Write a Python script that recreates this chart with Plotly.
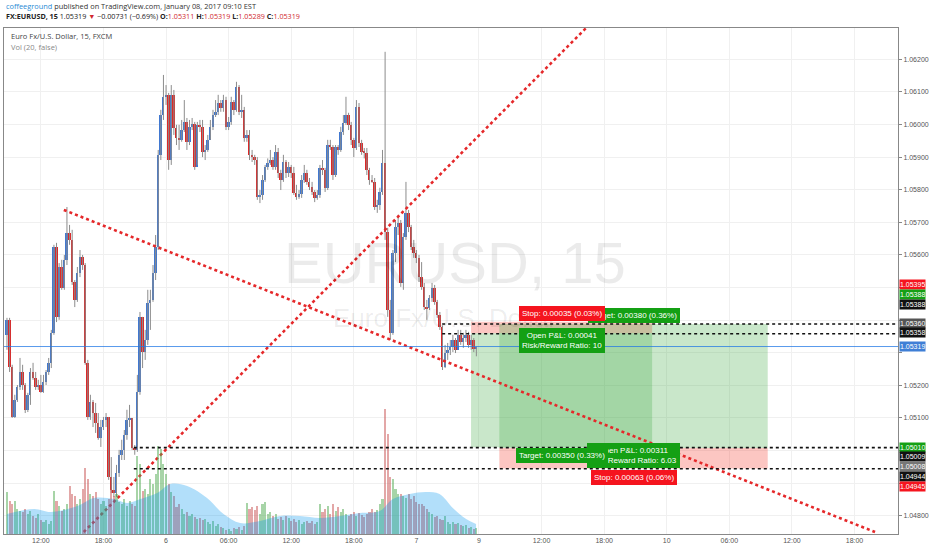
# EURUSD 15m chart (TradingView snapshot) rebuilt with plotly
import plotly.graph_objects as go

# --- bar data (15 minute bars, time in hours on a compressed session scale) ---
first_hour = 8.75
bar_step = 0.25
first_open = 1.05355

closes = [
    1.05401, 1.05256, 1.05103, 1.05155, 1.05195, 1.05241, 1.05201, 1.05125, 1.05171, 1.05241,
    1.05223, 1.05195, 1.05201, 1.05180, 1.05210, 1.05241, 1.05269, 1.05361, 1.05624, 1.05410,
    1.05563, 1.05499, 1.05585, 1.05667, 1.05646, 1.05517, 1.05462, 1.05545, 1.05594, 1.05569,
    1.05269, 1.05103, 1.05149, 1.05115, 1.05085, 1.05039, 1.05072, 1.05094, 1.05103, 1.04919,
    1.04879, 1.04870, 1.04931, 1.04987, 1.05002, 1.05048, 1.05094, 1.05100, 1.05008, 1.05002,
    1.05180, 1.05410, 1.05302, 1.05339, 1.05453, 1.05462, 1.05545, 1.05624, 1.05907, 1.06029,
    1.06085, 1.06091, 1.05891, 1.06091, 1.05989, 1.05959, 1.05953, 1.05983, 1.06008, 1.05947,
    1.05993, 1.06002, 1.05870, 1.05999, 1.05993, 1.05916, 1.05922, 1.05953, 1.05993, 1.06029,
    1.06039, 1.06066, 1.06051, 1.06075, 1.05993, 1.06008, 1.06069, 1.06045, 1.06115, 1.06039,
    1.06045, 1.05959, 1.05968, 1.05907, 1.05900, 1.05891, 1.05778, 1.05784, 1.05830, 1.05870,
    1.05882, 1.05891, 1.05870, 1.05916, 1.05851, 1.05830, 1.05885, 1.05851, 1.05870, 1.05851,
    1.05790, 1.05778, 1.05787, 1.05830, 1.05851, 1.05824, 1.05809, 1.05793, 1.05775, 1.05784,
    1.05867, 1.05861, 1.05806, 1.05937, 1.05931, 1.05845, 1.05931, 1.05922, 1.05977, 1.06005,
    1.06029, 1.05999, 1.05953, 1.05928, 1.06054, 1.05943, 1.05916, 1.05913, 1.05861, 1.05830,
    1.05824, 1.05747, 1.05753, 1.05793, 1.05882, 1.05670, 1.05431, 1.05361, 1.05606, 1.05686,
    1.05698, 1.05514, 1.05655, 1.05729, 1.05686, 1.05624, 1.05606, 1.05591, 1.05532, 1.05502,
    1.05440, 1.05437, 1.05468, 1.05499, 1.05456, 1.05416, 1.05379, 1.05256, 1.05299, 1.05309,
    1.05318, 1.05339, 1.05309, 1.05355, 1.05333, 1.05345, 1.05355, 1.05324, 1.05339, 1.05311,
    1.05319,
]

highs = [
    1.05407, 1.05407, 1.05263, 1.05171, 1.05201, 1.05284, 1.05263, 1.05207, 1.05177, 1.05253,
    1.05269, 1.05241, 1.05217, 1.05232, 1.05232, 1.05247, 1.05284, 1.05370, 1.05631, 1.05637,
    1.05575, 1.05585, 1.05600, 1.05747, 1.05692, 1.05677, 1.05523, 1.05563, 1.05615, 1.05600,
    1.05575, 1.05278, 1.05171, 1.05155, 1.05146, 1.05115, 1.05094, 1.05103, 1.05115, 1.05103,
    1.04980, 1.04919, 1.04956, 1.05002, 1.05033, 1.05063, 1.05125, 1.05140, 1.05100, 1.05017,
    1.05232, 1.05425, 1.05410, 1.05370, 1.05493, 1.05493, 1.05569, 1.05661, 1.05922, 1.06045,
    1.06152, 1.06121, 1.06097, 1.06121, 1.06106, 1.05999, 1.05999, 1.06014, 1.06075, 1.06020,
    1.06014, 1.06020, 1.06008, 1.06008, 1.06014, 1.06014, 1.05937, 1.05968, 1.06014, 1.06045,
    1.06075, 1.06091, 1.06075, 1.06091, 1.06085, 1.06023, 1.06085, 1.06075, 1.06131, 1.06121,
    1.06091, 1.06054, 1.05983, 1.05983, 1.05922, 1.05907, 1.05900, 1.05799, 1.05845, 1.05876,
    1.05896, 1.05922, 1.05900, 1.05937, 1.05928, 1.05861, 1.05907, 1.05891, 1.05885, 1.05876,
    1.05870, 1.05815, 1.05799, 1.05845, 1.05876, 1.05861, 1.05836, 1.05824, 1.05799, 1.05799,
    1.05876, 1.05891, 1.05867, 1.05953, 1.05953, 1.05937, 1.05937, 1.05937, 1.05993, 1.06029,
    1.06085, 1.06036, 1.06008, 1.05959, 1.06075, 1.06066, 1.05953, 1.05928, 1.05928, 1.05867,
    1.05845, 1.05836, 1.05769, 1.05806, 1.05922, 1.06223, 1.05683, 1.05462, 1.05615, 1.05707,
    1.05723, 1.05707, 1.05667, 1.05824, 1.05738, 1.05692, 1.05646, 1.05615, 1.05600, 1.05578,
    1.05514, 1.05462, 1.05477, 1.05514, 1.05508, 1.05462, 1.05425, 1.05384, 1.05324, 1.05330,
    1.05339, 1.05355, 1.05345, 1.05370, 1.05370, 1.05361, 1.05370, 1.05364, 1.05355, 1.05345,
    1.05319,
]

lows = [
    1.05309, 1.05241, 1.05100, 1.05100, 1.05149, 1.05186, 1.05186, 1.05115, 1.05118, 1.05140,
    1.05217, 1.05186, 1.05186, 1.05177, 1.05177, 1.05201, 1.05232, 1.05253, 1.05355, 1.05394,
    1.05401, 1.05493, 1.05493, 1.05569, 1.05631, 1.05508, 1.05440, 1.05456, 1.05532, 1.05554,
    1.05263, 1.05094, 1.05094, 1.05072, 1.05054, 1.05033, 1.05011, 1.05063, 1.05072, 1.04910,
    1.04870, 1.04858, 1.04858, 1.04919, 1.04971, 1.04971, 1.05033, 1.05072, 1.05002, 1.04987,
    1.04996, 1.05171, 1.05253, 1.05278, 1.05324, 1.05370, 1.05456, 1.05523, 1.05615, 1.05891,
    1.06014, 1.06060, 1.05861, 1.05876, 1.05968, 1.05937, 1.05922, 1.05947, 1.05977, 1.05922,
    1.05937, 1.05983, 1.05861, 1.05876, 1.05977, 1.05900, 1.05891, 1.05916, 1.05953, 1.05983,
    1.06023, 1.06029, 1.06039, 1.06039, 1.05983, 1.05983, 1.05999, 1.06029, 1.06039, 1.06029,
    1.06020, 1.05947, 1.05947, 1.05891, 1.05885, 1.05876, 1.05769, 1.05759, 1.05769, 1.05824,
    1.05861, 1.05876, 1.05861, 1.05861, 1.05836, 1.05799, 1.05824, 1.05836, 1.05839, 1.05836,
    1.05784, 1.05769, 1.05772, 1.05775, 1.05821, 1.05815, 1.05799, 1.05784, 1.05762, 1.05769,
    1.05775, 1.05845, 1.05793, 1.05799, 1.05922, 1.05830, 1.05839, 1.05907, 1.05916, 1.05968,
    1.05999, 1.05983, 1.05937, 1.05900, 1.05922, 1.05931, 1.05907, 1.05896, 1.05845, 1.05815,
    1.05821, 1.05738, 1.05729, 1.05738, 1.05784, 1.05646, 1.05410, 1.05339, 1.05355, 1.05578,
    1.05661, 1.05502, 1.05493, 1.05646, 1.05670, 1.05615, 1.05591, 1.05575, 1.05517, 1.05493,
    1.05431, 1.05401, 1.05431, 1.05456, 1.05447, 1.05407, 1.05370, 1.05247, 1.05253, 1.05278,
    1.05293, 1.05302, 1.05299, 1.05318, 1.05324, 1.05315, 1.05333, 1.05315, 1.05309, 1.05302,
    1.05289,
]

volumes = [
    1680, 1320, 1200, 1320, 1000, 920, 880, 1000, 800, 920,
    720, 640, 800, 560, 480, 560, 400, 520, 1720, 1320,
    1120, 920, 1000, 1200, 1920, 1600, 1520, 1200, 1400, 1800,
    2640, 2200, 1600, 1520, 1680, 1400, 1200, 1320, 1120, 1400,
    1800, 1520, 1600, 1280, 1200, 1400, 1120, 1320, 1200, 1120,
    3120, 2800, 1720, 1800, 1600, 2200, 2000, 2400, 3520, 3400,
    2800, 2400, 2000, 1680, 1520, 1080, 1200, 1000, 800, 880,
    720, 800, 680, 600, 640, 560, 600, 480, 400, 520,
    320, 400, 280, 240, 160, 200, 120, 240, 200, 280,
    160, 320, 1240, 1000, 1080, 960, 1120, 800, 1200, 1280,
    800, 880, 720, 800, 600, 680, 560, 720, 640, 520,
    600, 480, 560, 400, 480, 520, 440, 520, 400, 480,
    1200, 880, 1000, 1120, 800, 1200, 920, 1080, 880, 1000,
    800, 720, 800, 880, 720, 840, 760, 680, 800, 880,
    1000, 880, 960, 1200, 1400, 5000, 4000, 2280, 2200, 1800,
    1600, 1600, 1520, 1440, 1600, 1400, 1520, 1280, 1200, 1200,
    1120, 1000, 880, 800, 680, 720, 600, 560, 720, 480,
    400, 480, 400, 440, 360, 320, 360, 240, 280, 200,
    240,
]

# Vol (20) moving average
vol_ma_hours = [8.75, 11.36, 12.96, 15.51, 17.09, 19.0, 20.28, 21.55, 23.15, 24.42,
                26.02, 27.93, 29.51, 31.11, 33.02, 34.93, 36.84, 38.75, 40.66, 42.57,
                44.48, 45.75, 47.35, 48.94, 50.22, 51.49, 52.77, 53.72]
vol_ma = [800, 1000, 880, 1120, 1440, 1400, 1240, 1400, 1640, 2000,
          1920, 1440, 800, 440, 520, 720, 720, 640, 720, 840,
          920, 1400, 1600, 1680, 1600, 1040, 600, 400]

# x axis labels
tick_hours = [12, 18, 24, 30, 36, 42, 48, 54, 60, 66, 72, 78, 84, 90]
tick_text = ["12:00", "18:00", "6", "06:00", "12:00", "18:00", "7", "9",
             "12:00", "18:00", "10", "06:00", "12:00", "18:00"]
price_ticks = [1.048, 1.049, 1.050, 1.051, 1.052, 1.053, 1.054, 1.055,
               1.056, 1.057, 1.058, 1.059, 1.060, 1.061, 1.062]
# the ones hidden behind the price labels on the original are left blank
price_tick_text = ["1.04800", "", "", "1.05100", "1.05200", "", "", "",
                   "1.05600", "1.05700", "1.05800", "1.05900", "1.06000", "1.06100", "1.06200"]

# drawings
falling_line_hours = [14.2, 91.97]
falling_line_prices = [1.05738, 1.04750]
rising_line_hours = [16.11, 64.55]
rising_line_prices = [1.04750, 1.06305]
last_price = 1.05319
hlines_upper = [1.05388, 1.05358]
hlines_lower = [1.05009, 1.04944]
hlines_upper_start = 50.47
hlines_lower_start = 20.91

# short position: entry/stop/target and time span
short_span = [53.24, 70.6]
short_entry, short_stop, short_target = 1.05360, 1.05395, 1.05010
# long position
long_span = [55.95, 81.68]
long_entry, long_stop, long_target = 1.05008, 1.04945, 1.05388

UP = "#4178d0"
DOWN = "#dc2828"
GREEN_ZONE = "rgba(76,175,80,0.3)"
RED_ZONE = "rgba(244,67,54,0.3)"
FONT = "Liberation Sans, Arial, sans-serif"

bar_hours = [first_hour + bar_step * i for i in range(len(closes))]
opens = [first_open] + closes[:-1]
is_up = [c >= o for o, c in zip(opens, closes)]

fig = go.Figure()

# volume (overlay axis)
fig.add_trace(go.Bar(
    x=bar_hours, y=volumes, yaxis="y2", width=0.2,
    marker=dict(color=["rgba(80,170,80,0.5)" if u else "rgba(200,80,80,0.5)" for u in is_up],
                line=dict(width=0)),
    hoverinfo="skip",
))
fig.add_trace(go.Scatter(
    x=vol_ma_hours, y=vol_ma, yaxis="y2", mode="lines",
    line=dict(width=0, shape="spline", color="rgba(0,150,240,0.35)"),
    fill="tozeroy", fillcolor="rgba(0,150,240,0.3)", hoverinfo="skip",
))

# wicks
wick_x, wick_y = [], []
for h, hi, lo in zip(bar_hours, highs, lows):
    wick_x += [h, h, None]
    wick_y += [lo, hi, None]
fig.add_trace(go.Scatter(x=wick_x, y=wick_y, mode="lines",
                         line=dict(color="#8c8c8c", width=1), hoverinfo="skip"))

# bodies
fig.add_trace(go.Bar(
    x=bar_hours,
    base=[min(o, c) for o, c in zip(opens, closes)],
    y=[max(abs(c - o), 0.00002) for o, c in zip(opens, closes)],
    width=0.19,
    marker=dict(color=[UP if u else DOWN for u in is_up], line=dict(width=0)),
    hoverinfo="skip",
))

# trend lines
for xs, ys in [(falling_line_hours, falling_line_prices), (rising_line_hours, rising_line_prices)]:
    fig.add_trace(go.Scatter(x=xs, y=ys, mode="lines",
                             line=dict(color="#e5282a", width=2.6, dash="dot"),
                             hoverinfo="skip"))

# position boxes
shapes = []
def zone(x0, x1, y0, y1, color):
    shapes.append(dict(type="rect", x0=x0, x1=x1, y0=y0, y1=y1, fillcolor=color,
                       line=dict(width=0), layer="between"))

zone(short_span[0], short_span[1], short_entry, short_stop, RED_ZONE)
zone(short_span[0], short_span[1], short_target, short_entry, GREEN_ZONE)
zone(long_span[0], long_span[1], long_entry, long_target, GREEN_ZONE)
zone(long_span[0], long_span[1], long_stop, long_entry, RED_ZONE)

# last price line
shapes.append(dict(type="line", xref="paper", x0=0, x1=1, y0=last_price, y1=last_price,
                   line=dict(color="rgba(33,120,230,0.75)", width=1)))
# horizontal dotted lines
for p in hlines_upper:
    shapes.append(dict(type="line", x0=hlines_upper_start, x1=94.17, y0=p, y1=p,
                       line=dict(color="#111", width=1.6, dash="dot")))
for p in hlines_lower:
    shapes.append(dict(type="line", x0=hlines_lower_start, x1=94.17, y0=p, y1=p,
                       line=dict(color="#111", width=1.6, dash="dot")))

annotations = []

# watermark
annotations.append(dict(xref="paper", yref="paper", x=0.504, y=0.5375, text="EURUSD, 15",
                        showarrow=False, font=dict(size=58, color="rgba(0,0,0,0.08)", family=FONT)))
annotations.append(dict(xref="paper", yref="paper", x=0.493, y=0.427, text="Euro Fx/U.S. Dollar",
                        showarrow=False, font=dict(size=26, color="rgba(0,0,0,0.08)", family=FONT)))

# header
annotations.append(dict(
    xref="paper", yref="paper", x=0, y=1.0425, xanchor="left", yanchor="middle", showarrow=False,
    text="<span style='color:#2a8ad4'>coffeeground</span> published on TradingView.com, January 08, 2017 09:10 EST",
    font=dict(size=7.4, color="#333", family="Open Sans, sans-serif")))
red = "<span style='color:#d0282e'>%s</span>"
annotations.append(dict(
    xref="paper", yref="paper", x=0, y=1.0237, xanchor="left", yanchor="middle", showarrow=False,
    text=("<b>FX:EURUSD, 15</b> 1.05319 " + red % "▼" + " \u22120.00731 (\u22120.69%) "
          + "<b>O:</b>" + red % "1.05311" + " <b>H:</b>" + red % "1.05319"
          + " <b>L:</b>" + red % "1.05289" + " <b>C:</b>" + red % "1.05319"),
    font=dict(size=7.2, color="#222", family="Open Sans, sans-serif")))
annotations.append(dict(xref="paper", yref="paper", x=0.0056, y=0.984, xanchor="left", yanchor="middle",
                        showarrow=False, text="Euro Fx/U.S. Dollar, 15, FXCM",
                        font=dict(size=7.5, color="#444", family="Open Sans, sans-serif")))
annotations.append(dict(xref="paper", yref="paper", x=0.0056, y=0.9625, xanchor="left", yanchor="middle",
                        showarrow=False, text="Vol (20, false)",
                        font=dict(size=7.5, color="#888", family="Open Sans, sans-serif")))

# position tool labels
def tag(x, y, text, color, yanchor, yshift):
    annotations.append(dict(x=x, y=y, text=text, showarrow=False, yanchor=yanchor, yshift=yshift,
                            bgcolor=color, bordercolor=color, borderpad=2,
                            font=dict(size=8, color="white", family=FONT)))

short_mid = (short_span[0] + short_span[1]) / 2
long_mid = (long_span[0] + long_span[1]) / 2
GTAG = "#14a014"
RTAG = "#f5141e"
tag(long_mid, long_target, "Target: 0.00380 (0.36%)", GTAG, "bottom", 1)
tag(short_mid, short_stop, "Stop: 0.00035 (0.03%)", RTAG, "bottom", 1)
tag(short_mid, short_entry, "Open P&L: 0.00041<br>Risk/Reward Ratio: 10", GTAG, "top", 5)
tag(long_mid, long_entry, "Open P&L: 0.00311<br>Risk/Reward Ratio: 6.03", GTAG, "top", 5)
tag(short_mid, short_target, "Target: 0.00350 (0.33%)", GTAG, "top", -1)
tag(long_mid, long_stop, "Stop: 0.00063 (0.06%)", RTAG, "top", -2)

# price scale labels (stacked like on the chart)
scale_labels = [
    ("1.05395", 1.05395, "#f5141e", 37),
    ("1.05388", 1.05388, "#14a014", 30),
    ("1.05388", 1.05388, "#111111", 20),
    ("1.05360", 1.05360, "#555555", 10),
    ("1.05358", 1.05358, "#111111", 1),
    ("1.05319", 1.05319, "#3f7fd6", 0),
    ("1.05010", 1.05010, "#14a014", 0),
    ("1.05009", 1.05009, "#111111", -9),
    ("1.05008", 1.05008, "#777777", -19),
    ("1.04944", 1.04944, "#111111", -8),
    ("1.04945", 1.04945, "#f5141e", -18),
]
for text, p, color, shift in scale_labels:
    annotations.append(dict(xref="paper", x=1, y=p, xanchor="left", yanchor="middle", xshift=1,
                            yshift=shift, text=text, showarrow=False, bgcolor=color, borderpad=0,
                            height=9, font=dict(size=7, color="white", family=FONT)))

fig.update_layout(
    width=932, height=550,
    margin=dict(l=3, r=32, t=28, b=16),
    paper_bgcolor="white", plot_bgcolor="white",
    showlegend=False, barmode="overlay", bargap=0,
    hovermode=False,
    shapes=shapes, annotations=annotations,
    xaxis=dict(range=[8.465, 94.17], tickmode="array", tickvals=tick_hours, ticktext=tick_text,
               showgrid=True, gridcolor="#f0f0f0", zeroline=False,
               showline=True, linecolor="#888", mirror=True, ticks="",
               tickfont=dict(size=7, color="#555", family=FONT)),
    yaxis=dict(range=[1.04744, 1.06296], side="right", tickmode="array", tickvals=price_ticks,
               ticktext=price_tick_text, showgrid=True, gridcolor="#f0f0f0", zeroline=False,
               showline=True, linecolor="#888", mirror=True, ticks="outside", ticklen=3,
               tickcolor="#888", tickfont=dict(size=7, color="#555", family=FONT)),
    yaxis2=dict(overlaying="y", range=[0, 20240], visible=False, fixedrange=True),
)

# the page gets no body margin so the figure sits at the window corner
fig.write_html("out.html", config={"displayModeBar": False},
               post_script="document.body.style.margin='0';document.body.style.overflow='hidden';")
